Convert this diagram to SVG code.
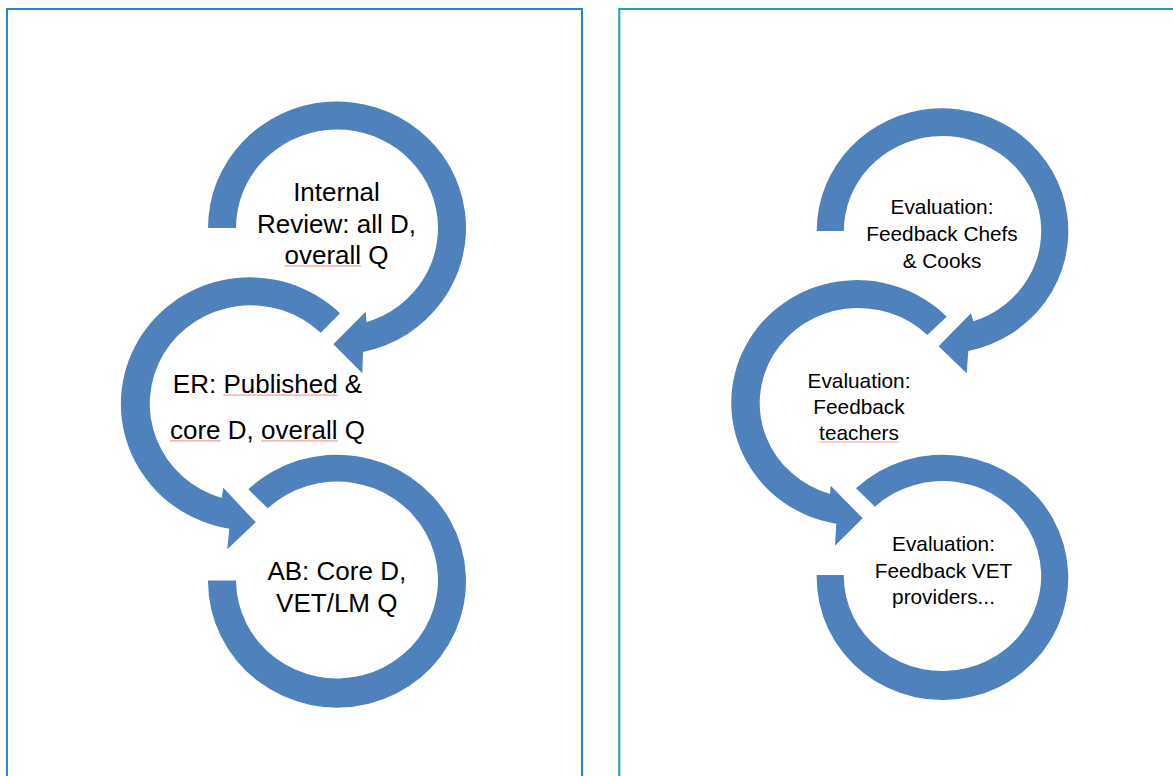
<svg xmlns="http://www.w3.org/2000/svg" width="1173" height="776" viewBox="0 0 1173 776">
<style>
.arc{fill:#4f81bd;stroke:none}
.lbl{font-family:"Liberation Sans",Arial,sans-serif;fill:#000;text-anchor:middle}
.big{font-size:26px}
.small{font-size:20.8px}
.sq{stroke:#f2a0a0;stroke-width:1.2;fill:none}
.panelL{fill:#fff;stroke:#2b82d3;stroke-width:2}
.panelR{fill:#fff;stroke:#1f9fb5;stroke-width:2}
</style>
<rect x="0" y="0" width="1173" height="776" fill="#fff"/>
<rect class="panelL" x="7" y="9" width="575" height="800"/>
<rect class="panelR" x="619.3" y="9" width="600" height="800"/>

<g id="connectors">
  <!-- left panel -->
  <path class="arc" d="M 208 228 A 129 126.5 0 1 1 363 351.9 L 362.3 373.3 L 333.3 344.3 L 365.7 311.7 L 366.5 322.2 A 101 98.5 0 1 0 236 228 Z"/>
  <path class="arc" d="M 340 313.3 A 129 126.5 0 1 0 229.3 528.7 L 227.3 549.3 L 255.7 522.3 L 223.3 487.7 L 221.7 498.1 A 101 98.5 0 1 1 320.7 332.7 Z"/>
  <path class="arc" d="M 248.3 489.3 A 129 126.5 0 1 1 208 580.5 L 236 580.5 A 101 98.5 0 1 0 267.7 508.3 Z"/>
  <!-- right panel -->
  <path class="arc" d="M 816.7 231 A 125.8 122.7 0 1 1 968.3 351.1 L 966.7 373.3 L 938.6 346.2 L 971 313.3 L 973.3 321.3 A 98.7 95 0 1 0 843.8 231 Z"/>
  <path class="arc" d="M 946.7 316.7 A 125.8 122.7 0 1 0 836.3 523.8 L 835 545.7 L 862.7 518.3 L 830.7 485.7 L 830 494 A 98.7 95 0 1 1 927.3 335 Z"/>
  <path class="arc" d="M 856 488.3 A 125.8 122.7 0 1 1 816.7 575 L 843.8 575 A 98.7 95 0 1 0 875 506.7 Z"/>
</g>

<g id="node-internal-review">
  <text class="lbl big" x="336.5" y="201">Internal</text>
  <text class="lbl big" x="336.5" y="233">Review: all D,</text>
  <text class="lbl big" x="336.5" y="264">overall Q</text>
  <line class="sq" x1="284.5" y1="265.8" x2="361" y2="265.8"/>
</g>
<g id="node-er">
  <text class="lbl big" x="267.5" y="393.3">ER: Published &amp;</text>
  <text class="lbl big" x="267.5" y="439">core D, overall Q</text>
  <line class="sq" x1="223.4" y1="395.1" x2="337.6" y2="395.1"/>
  <line class="sq" x1="170" y1="440.8" x2="220.6" y2="440.8"/>
  <line class="sq" x1="261" y1="440.8" x2="337.6" y2="440.8"/>
</g>
<g id="node-ab">
  <text class="lbl big" x="336.8" y="579.5">AB: Core D,</text>
  <text class="lbl big" x="336.8" y="611.5">VET/LM Q</text>
</g>

<g id="node-eval-chefs">
  <text class="lbl small" x="942" y="214.3">Evaluation:</text>
  <text class="lbl small" x="942" y="241">Feedback Chefs</text>
  <text class="lbl small" x="942" y="267.7">&amp; Cooks</text>
</g>
<g id="node-eval-teachers">
  <text class="lbl small" x="859" y="387.7">Evaluation:</text>
  <text class="lbl small" x="859" y="414">Feedback</text>
  <text class="lbl small" x="859" y="440.3">teachers</text>
  <line class="sq" x1="819.1" y1="442" x2="898.9" y2="442"/>
</g>
<g id="node-eval-vet">
  <text class="lbl small" x="943.5" y="551">Evaluation:</text>
  <text class="lbl small" x="943.5" y="577.7">Feedback VET</text>
  <text class="lbl small" x="943.5" y="604.4">providers...</text>
</g>
</svg>
